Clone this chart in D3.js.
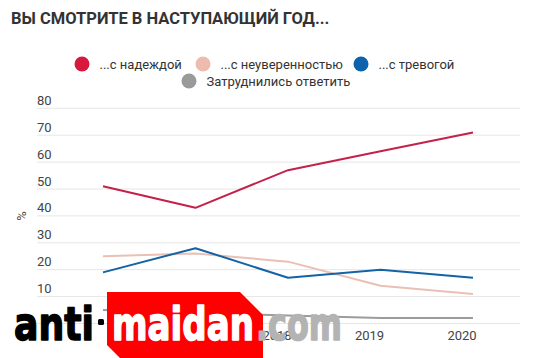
<!DOCTYPE html>
<html><head><meta charset="utf-8">
<script src="https://cdn.jsdelivr.net/npm/d3@7/dist/d3.min.js"></script>
<style>
body{margin:0;background:#fff;}
svg{display:block;font-family:Roboto,"Noto Sans",sans-serif;}
</style></head>
<body>
<svg id="c" width="546" height="358"></svg>
<script>
const title = "ВЫ СМОТРИТЕ В НАСТУПАЮЩИЙ ГОД...";
const years = ["2016","2017","2018","2019","2020"];
const seriesNames = ["...с надеждой","...с неуверенностью","...с тревогой","Затруднились ответить"];
const seriesColors = ["#d7183f","#eebcae","#0d62ad","#9a9a9a"];
const lineColors = ["#c42148","#e9c0b3","#1363a6","#9c9c9c"];
const hope = [51,43,57,64,71];
const uncertainty = [25,26,23,14,11];
const anxiety = [19,28,17,20,17];
const hard = [5,4,3,2,2];
const yTicks = [0,10,20,30,40,50,60,70,80];
const yLabel = "%";
const wmParts = ["anti","·","maidan",".com"];

const svg = d3.select("#c");
const x = d3.scalePoint().domain(years).range([103,473]);
const y = d3.scaleLinear().domain([0,80]).range([323.5,108.3]);

svg.append("text").attr("x",11).attr("y",24).attr("font-size",16.5).attr("font-weight",700)
  .attr("fill","#333").text(title);

// legend
const leg = [
  {i:0,cx:82,cy:64},{i:1,cx:203,cy:64},{i:2,cx:361,cy:64},{i:3,cx:189,cy:81}
];
leg.forEach(d=>{
  svg.append("circle").attr("cx",d.cx).attr("cy",d.cy).attr("r",7.5).attr("fill",seriesColors[d.i]);
  svg.append("text").attr("x",d.cx+17.5).attr("y",d.cy+4.5).attr("font-size",13).attr("fill","#333")
    .text(seriesNames[d.i]);
});

// grid
const g = svg.append("g");
g.selectAll("line.grid").data(yTicks).join("line")
  .attr("x1",37).attr("x2",520).attr("y1",d=>y(d)).attr("y2",d=>y(d))
  .attr("stroke","#e6e6e6").attr("stroke-width",1);
g.selectAll("text.yt").data(yTicks.filter(d=>d>0)).join("text")
  .attr("x",37).attr("y",d=>y(d)-3.5).attr("font-size",13).attr("fill","#444").text(d=>d);
svg.append("text").attr("transform","translate(26,216) rotate(-90)").attr("text-anchor","middle")
  .attr("font-size",13).attr("fill","#444").text(yLabel);

// x labels (the first two sit under the watermark in the reference)
svg.selectAll("text.xt").data(years.slice(2)).join("text")
  .attr("x",d=>x(d)-11).attr("y",340).attr("text-anchor","middle").attr("font-size",13).attr("fill","#444").text(d=>d);

const line = d3.line().x((d,i)=>x(years[i])).y(d=>y(d));
const all = [hard,uncertainty,anxiety,hope];
const cidx = [3,1,2,0];
all.forEach((s,k)=>{
  svg.append("path").attr("d",line(s)).attr("fill","none").attr("stroke",lineColors[cidx[k]])
    .attr("stroke-width",2).attr("stroke-linejoin","round");
});

// watermark overlay
const wm = svg.append("g");
wm.append("path").attr("d","M107,292 L240,292 L263,315 L263,358 L120,358 L107,345 Z").attr("fill","#ff0000");
const wf = "'DejaVu Sans',sans-serif";
function wmText(t,x0,len,col){
  wm.append("text").attr("x",x0).attr("y",340).attr("font-family",wf).attr("font-weight",700).attr("font-size",47)
    .attr("textLength",len).attr("lengthAdjust","spacingAndGlyphs").attr("fill",col)
    .attr("stroke",col).attr("stroke-width",1.6).attr("stroke-linejoin","round").text(t);
}
wmText(wmParts[0],14,80,"#000");
wm.append("rect").attr("x",98).attr("y",319).attr("width",6).attr("height",6).attr("rx",1.5).attr("fill","#000");
wmText(wmParts[2],112,142,"#fff");
wmText(wmParts[3],256,86,"#b3b3b3");
</script>
</body></html>
